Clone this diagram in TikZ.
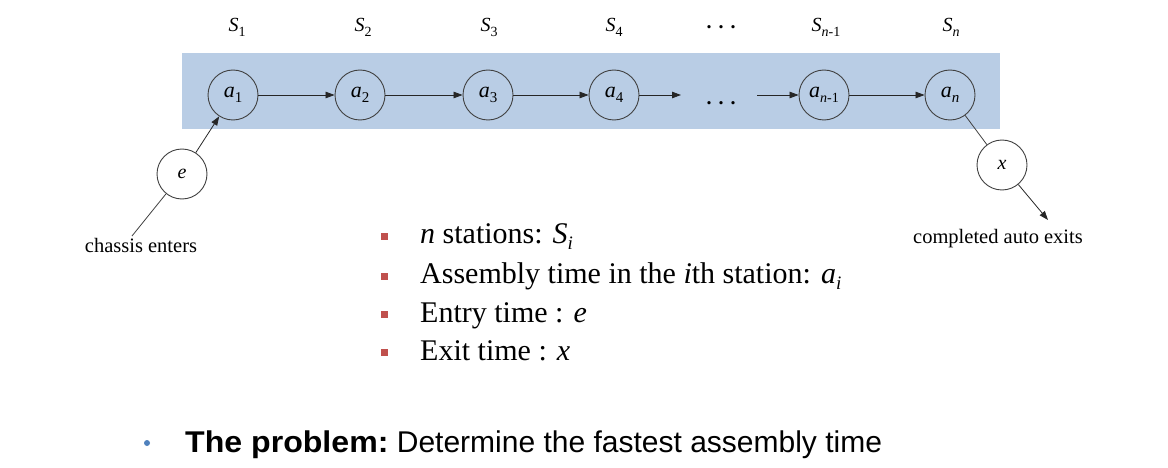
\documentclass[tikz,border=0pt]{standalone}
\usepackage{fontspec}
\setmainfont{Liberation Serif}
\newfontfamily\arialf{Liberation Sans}
\usetikzlibrary{arrows.meta}
\definecolor{bandblue}{HTML}{B9CDE5}
\definecolor{bulletred}{HTML}{C0504D}
\definecolor{dotblue}{HTML}{4F81BD}
\definecolor{linegray}{HTML}{404040}
\newcommand{\mysub}[2]{\raisebox{-0.22em}{\fontsize{#1}{#1}\selectfont #2}}
\newcommand{\spdots}{.\hspace{7pt}.\hspace{7pt}.}
\begin{document}
\begin{tikzpicture}[x=1pt,y=-1pt,
  station/.style={circle,draw=linegray,line width=0.9pt,minimum size=50pt,inner sep=0pt,
    font=\fontsize{22}{22}\selectfont\itshape},
  slabel/.style={anchor=base,inner sep=0pt,font=\fontsize{20}{20}\selectfont\itshape},
  dotlabel/.style={anchor=base,inner sep=0pt,font=\fontsize{20}{20}\selectfont\bfseries},
  arr/.style={-{Triangle[length=9pt,width=6.5pt]},line width=0.8pt,black!85},
  ln/.style={line width=0.8pt,linegray},
  small/.style={anchor=base,inner sep=0pt,font=\fontsize{20.5}{20.5}\selectfont},
  item/.style={anchor=base west,inner sep=0pt,font=\fontsize{30}{30}\selectfont},
  redsq/.style={fill=bulletred,minimum size=7pt,inner sep=0pt},
]
\useasboundingbox (0,0) rectangle (1168,468);
\fill[bandblue] (182,53) rectangle (1000,129);

% station labels
\node[slabel] (s1) at (237,32) {S\mysub{14}{\upshape 1}};
\node[slabel] (s2) at (363,32) {S\mysub{14}{\upshape 2}};
\node[slabel] (s3) at (489,32) {S\mysub{14}{\upshape 3}};
\node[slabel] (s4) at (614,32) {S\mysub{14}{\upshape 4}};
\node[dotlabel] (sd) at (721,29) {\spdots};
\node[slabel] (sn1) at (826,32) {S\mysub{14}{n\upshape -1}};
\node[slabel] (sn) at (951,32) {S\mysub{14}{n}};

% stations
\node[station] (a1) at (233,95) {a\mysub{15}{\upshape 1}};
\node[station] (a2) at (360,95) {a\mysub{15}{\upshape 2}};
\node[station] (a3) at (488,95) {a\mysub{15}{\upshape 3}};
\node[station] (a4) at (614,95) {a\mysub{15}{\upshape 4}};
\node[station] (an1) at (824,95) {a\mysub{14}{n\upshape -1}};
\node[station] (an) at (950,95) {a\mysub{15}{n}};
\node[dotlabel] (dots) at (721,105) {\spdots};
\coordinate (d1) at (681,95);
\coordinate (d2) at (757,95);

\draw[arr] (a1) -- (a2);
\draw[arr] (a2) -- (a3);
\draw[arr] (a3) -- (a4);
\draw[arr] (a4) -- (d1);
\draw[arr] (d2) -- (an1);
\draw[arr] (an1) -- (an);

% entry and exit
\node[station,font=\fontsize{20}{20}\selectfont\itshape] (e) at (182,174) {e};
\node[station,font=\fontsize{20}{20}\selectfont\itshape] (x) at (1002,165) {x};
\coordinate (cin) at (132,236);
\coordinate (cout) at (1048,220);
\draw[ln] (cin) -- (e);
\draw[arr] (e) -- (a1);
\draw[ln] (an) -- (x);
\draw[arr] (x) -- (cout);
\node[small] (lin) at (141,252) {chassis enters};
\node[small] (lout) at (998,243) {completed auto exits};

% bullet list
\node[redsq] (b1) at (384,236) {};
\node[redsq] (b2) at (384,276) {};
\node[redsq] (b3) at (384,314) {};
\node[redsq] (b4) at (384,352) {};
\node[item] (t1) at (420,243) {\textit{n} stations: \textit{S}\mysub{19}{\itshape i}};
\node[item] (t2) at (420,283) {Assembly time in the \textit{i}th station: \textit{a}\mysub{19}{\itshape i}};
\node[item] (t3) at (420,322) {Entry time : \textit{e}};
\node[item] (t4) at (420,360) {Exit time : \textit{x}};

% problem statement
\node[circle,fill=dotblue,minimum size=6pt,inner sep=0pt] (bd) at (147,443) {};
\node[anchor=base west,inner sep=0pt,font=\arialf\fontsize{30}{30}\selectfont] (prob) at (185,452)
  {\scalebox{1.07}[1]{\textbf{The problem:}} Determine the fastest assembly time};
\end{tikzpicture}
\end{document}
